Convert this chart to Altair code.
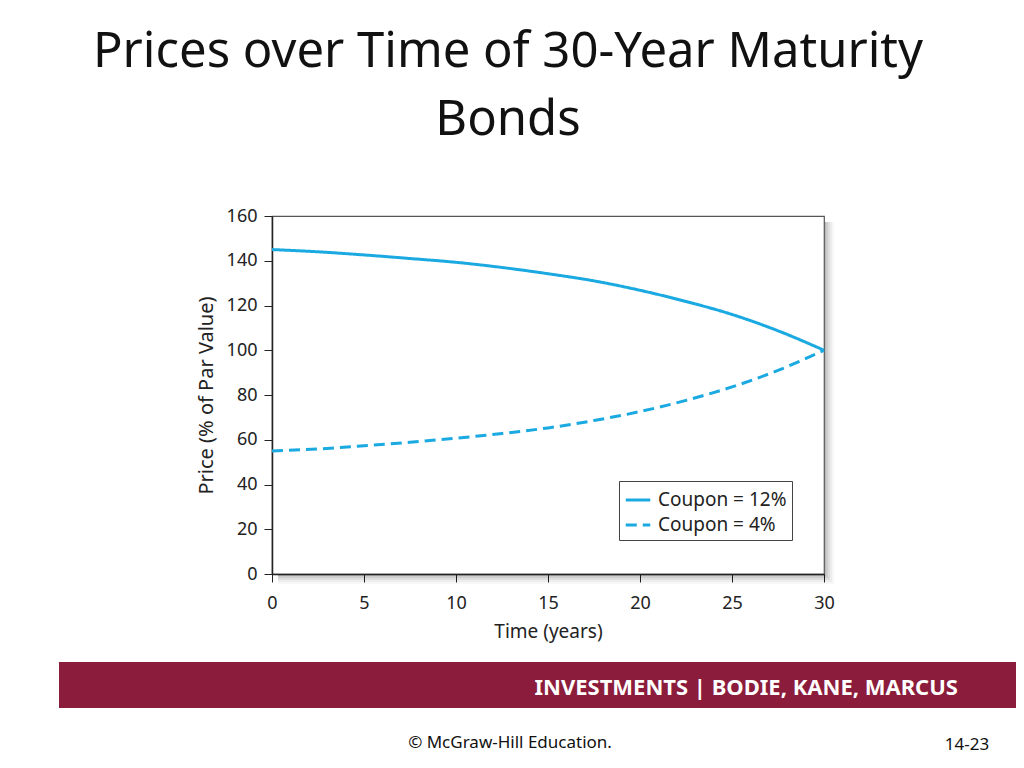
import altair as alt
import pandas as pd

years = [0, 2.5, 5, 7.5, 10, 12.5, 15, 17.5, 20, 22.5, 25, 27.5, 30]
price_12 = [145.0, 144.0, 142.6, 141.0, 139.3, 137.0, 134.2, 131.0, 126.8, 121.8, 116.0, 108.7, 100.0]
price_4 = [55.0, 55.9, 57.3, 58.9, 60.7, 62.8, 65.3, 68.6, 72.6, 77.6, 83.6, 91.0, 100.0]
series = ["Coupon = 12%", "Coupon = 4%"]
title_lines = ["Prices over Time of 30-Year Maturity", "Bonds"]

rows = []
for t, v in zip(years, price_12):
    rows.append({"t": t, "price": v, "series": series[0]})
for t, v in zip(years, price_4):
    rows.append({"t": t, "price": v, "series": series[1]})
df = pd.DataFrame(rows)

W, H = 552, 358
BLUE = "#1aa9e1"
FONT = "Noto Sans"

lines = alt.Chart(df).mark_line(strokeWidth=3, interpolate="monotone").encode(
    x=alt.X("t:Q", scale=alt.Scale(domain=[0, 30], nice=False),
            axis=alt.Axis(values=[0, 5, 10, 15, 20, 25, 30], title="Time (years)",
                          labelFontSize=18, titleFontSize=19, labelPadding=12,
                          titlePadding=10, tickSize=8, grid=False, labelFlush=False)),
    y=alt.Y("price:Q", scale=alt.Scale(domain=[0, 160], nice=False),
            axis=alt.Axis(values=[0, 20, 40, 60, 80, 100, 120, 140, 160],
                          title="Price (% of Par Value)", labelFontSize=18,
                          titleFontSize=20, labelPadding=7, titlePadding=10,
                          tickSize=8, grid=False, labelFlush=False)),
    color=alt.Color("series:N", scale=alt.Scale(domain=series, range=[BLUE, BLUE]),
                    legend=alt.Legend(title=None, orient="none", legendX=347, legendY=265,
                                      strokeColor="#444", fillColor="white", padding=5,
                                      symbolType="stroke", symbolSize=600,
                                      symbolStrokeWidth=3, labelFontSize=19,
                                      labelFont=FONT, labelColor="#222", rowPadding=1,
                                      labelOffset=6)),
    strokeDash=alt.StrokeDash("series:N",
                              scale=alt.Scale(domain=series, range=[[1, 0], [11, 6]]),
                              legend=alt.Legend(title=None, orient="none", legendX=347,
                                                legendY=265)),
)

one = pd.DataFrame({"k": [0]})

# soft drop shadow strips along right and bottom of the frame
shadows = []
for i, op in enumerate([0.10, 0.08, 0.06, 0.04, 0.03]):
    off = 2 * (i + 1)
    shadows.append(alt.Chart(one).mark_rect(color="#000", opacity=op).encode(
        x=alt.value(6), x2=alt.value(W + off), y=alt.value(H + 1), y2=alt.value(H + off)))
    shadows.append(alt.Chart(one).mark_rect(color="#000", opacity=op).encode(
        x=alt.value(W + 1), x2=alt.value(W + off), y=alt.value(6), y2=alt.value(H + 1)))

band = alt.Chart(one).mark_rect(color="#8c1c3b").encode(
    x=alt.value(-213), x2=alt.value(752), y=alt.value(446), y2=alt.value(492)
)

title = alt.Chart(one).mark_text(fontSize=49, font=FONT, color="#111", align="center",
                                 baseline="alphabetic", lineHeight=68).encode(
    x=alt.value(236), y=alt.value(-149), text=alt.value(title_lines))

footer = alt.Chart(one).mark_text(fontSize=22, font=FONT, fontWeight="bold", color="white",
                                  align="right", baseline="middle").encode(
    x=alt.value(686), y=alt.value(472), text=alt.value("INVESTMENTS | BODIE, KANE, MARCUS"))

copy = alt.Chart(one).mark_text(fontSize=17, font=FONT, color="#111", align="center",
                                baseline="middle").encode(
    x=alt.value(238), y=alt.value(527), text=alt.value("© McGraw-Hill Education."))

page = alt.Chart(one).mark_text(fontSize=17, font=FONT, color="#111", align="center",
                                baseline="middle").encode(
    x=alt.value(695), y=alt.value(529), text=alt.value("14-23"))

chart = alt.layer(*shadows, lines, band, title, footer, copy, page).properties(
    width=W, height=H,
    autosize=alt.AutoSizeParams(type="none"),
    padding={"left": 264, "top": 208, "right": 192, "bottom": 186},
    background="white",
).configure_view(stroke="#555", strokeWidth=1.2).configure_axis(
    labelFont=FONT, titleFont=FONT, labelColor="#222", titleColor="#222",
    domainColor="#222", tickColor="#222", titleFontWeight="normal", domainWidth=1.5
)

chart.save("out.html", embed_options={"renderer": "svg", "actions": False})
